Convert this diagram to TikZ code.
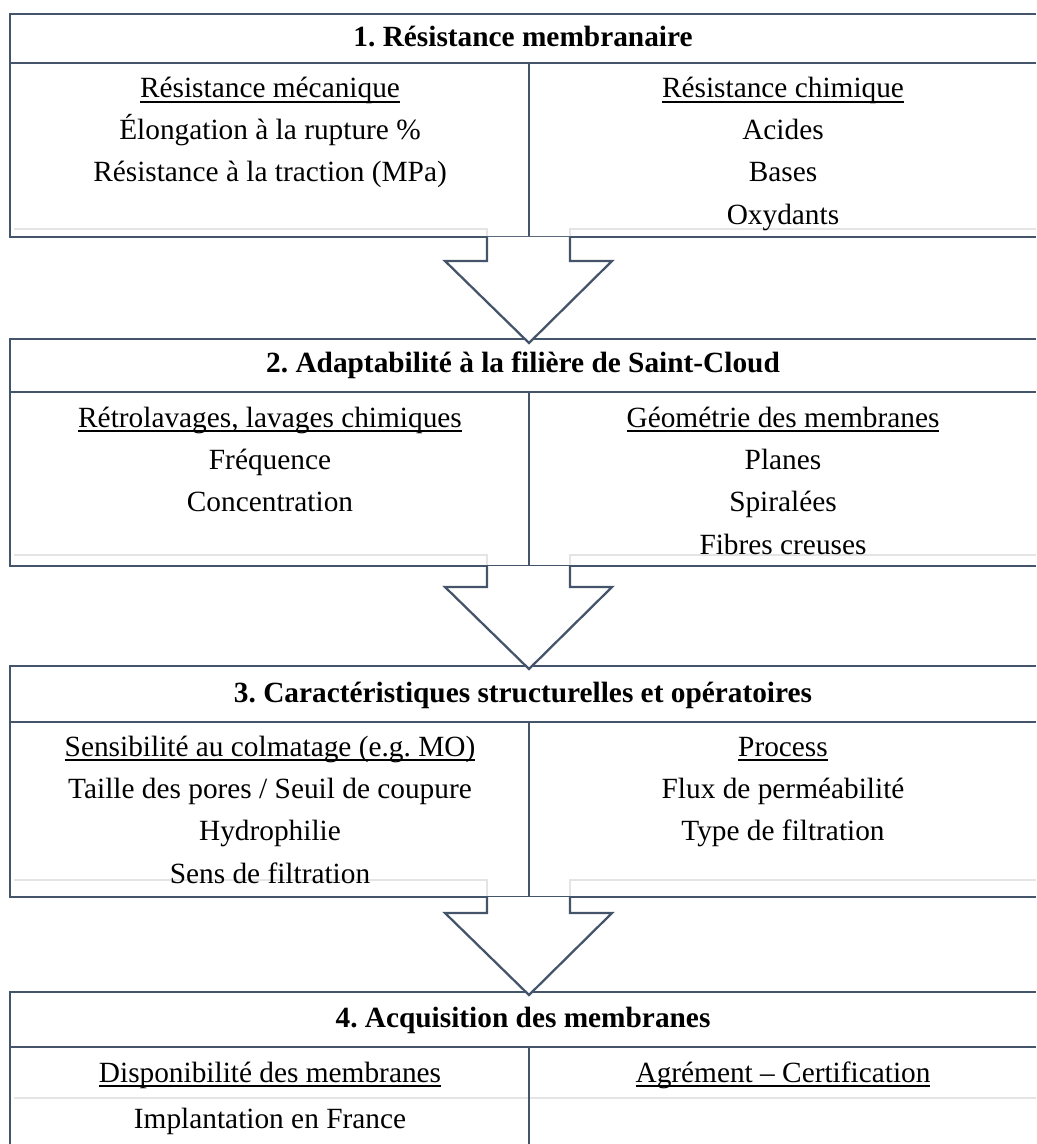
\documentclass[tikz,border=0pt]{standalone}
\usepackage{fontspec}
\setmainfont{Liberation Serif}
\frenchspacing

\definecolor{boxline}{HTML}{44546A}
\definecolor{ghostline}{HTML}{E4E4E4}

\newcommand{\undl}[1]{\setbox0\hbox{#1}\rlap{\rule[-3.4pt]{\wd0}{0.9pt}}\box0}

\tikzset{every picture/.style={line width=0.75pt}}
\tikzset{
  frame/.style={draw=boxline, line width=1.7pt},
  ghost/.style={draw=ghostline, line width=1.4pt},
  bigarrow/.style={draw=boxline, fill=white, line width=1.7pt, line join=miter},
  cell/.style={anchor=base, inner sep=0.75pt, font=\fontsize{22}{26}\selectfont},
  title/.style={anchor=base, inner sep=0.75pt, font=\fontsize{22}{26}\selectfont\bfseries}
}

\begin{document}
\begin{tikzpicture}[x=0.75pt,y=0.75pt,yscale=-1,xscale=1]
\useasboundingbox (0,0) rectangle (1036,1144);

%Ghost lines
\draw [ghost] (14,229) -- (487,229) -- (487,237) ;
\draw [ghost] (570,237) -- (570,229) -- (1036,229) ;
\draw [ghost] (14,555) -- (487,555) -- (487,566) ;
\draw [ghost] (570,566) -- (570,555) -- (1036,555) ;
\draw [ghost] (14,880) -- (487,880) -- (487,897) ;
\draw [ghost] (570,897) -- (570,880) -- (1036,880) ;
\draw [ghost] (14,1098) -- (1036,1098) ;

%Shape: Box 1
\draw [frame] (1036,14) -- (10,14) -- (10,237) -- (1036,237) ;
\draw [frame] (10,63) -- (1036,63) ;
\draw [frame] (529,63) -- (529,237) ;
%Shape: Box 2
\draw [frame] (1036,339) -- (10,339) -- (10,566) -- (1036,566) ;
\draw [frame] (10,392) -- (1036,392) ;
\draw [frame] (529,392) -- (529,566) ;
%Shape: Box 3
\draw [frame] (1036,666) -- (10,666) -- (10,897) -- (1036,897) ;
\draw [frame] (10,722) -- (1036,722) ;
\draw [frame] (529,722) -- (529,897) ;
%Shape: Box 4
\draw [frame] (1036,992) -- (10,992) -- (10,1144) ;
\draw [frame] (10,1047) -- (1036,1047) ;
\draw [frame] (529,1047) -- (529,1144) ;

%Block Arrows
\draw [bigarrow] (487,237) -- (487,261) -- (445,261) -- (529,343) -- (612,261) -- (570,261) -- (570,237) ;
\draw [bigarrow] (487,566) -- (487,587) -- (445,587) -- (529,669) -- (612,587) -- (570,587) -- (570,566) ;
\draw [bigarrow] (487,897) -- (487,913) -- (445,913) -- (529,995) -- (612,913) -- (570,913) -- (570,897) ;

% Text Node
\node [title] (h1) at (523,47) {1. Résistance membranaire};
\node [cell] (m1) at (270,98) {\undl{Résistance mécanique}};
\node [cell] (m2) at (270,140) {Élongation à la rupture \%};
\node [cell] (m3) at (270,182) {Résistance à la traction (MPa)};
\node [cell] (c1) at (783,98) {\undl{Résistance chimique}};
\node [cell] (c2) at (783,140) {Acides};
\node [cell] (c3) at (783,182) {Bases};
\node [cell] (c4) at (783,225) {Oxydants};
% Text Node
\node [title] (h2) at (523,373) {2. Adaptabilité à la filière de Saint-Cloud};
\node [cell] (r1) at (270,427) {\undl{Rétrolavages, lavages chimiques}};
\node [cell] (r2) at (270,469) {Fréquence};
\node [cell] (r3) at (270,511) {Concentration};
\node [cell] (g1) at (783,427) {\undl{Géométrie des membranes}};
\node [cell] (g2) at (783,469) {Planes};
\node [cell] (g3) at (783,511) {Spiralées};
\node [cell] (g4) at (783,554) {Fibres creuses};
% Text Node
\node [title] (h3) at (523,702) {3. Caractéristiques structurelles et opératoires};
\node [cell] (s1) at (270,756) {\undl{Sensibilité au colmatage (e.g. MO)}};
\node [cell] (s2) at (270,798) {Taille des pores / Seuil de coupure};
\node [cell] (s3) at (270,840) {Hydrophilie};
\node [cell] (s4) at (270,883) {Sens de filtration};
\node [cell] (p1) at (783,756) {\undl{Process}};
\node [cell] (p2) at (783,798) {Flux de perméabilité};
\node [cell] (p3) at (783,840) {Type de filtration};
% Text Node
\node [title] (h4) at (523,1027) {4. Acquisition des membranes};
\node [cell] (d1) at (270,1082) {\undl{Disponibilité des membranes}};
\node [cell] (d2) at (270,1128) {Implantation en France};
\node [cell] (a1) at (783,1082) {\undl{Agrément – Certification}};

\end{tikzpicture}
\end{document}
